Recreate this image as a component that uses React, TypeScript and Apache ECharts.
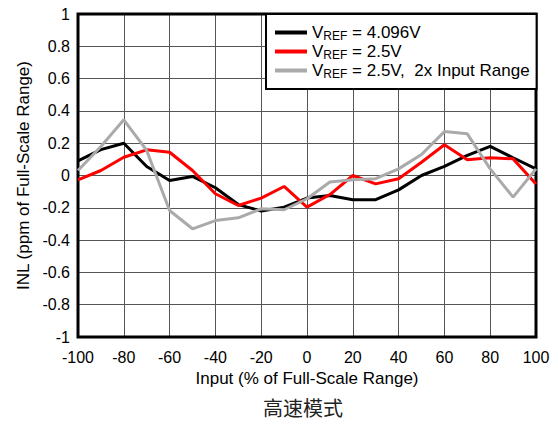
import React, { useEffect, useRef } from "react";
import * as echarts from "echarts";

const xValues = [-100, -90, -80, -70, -60, -50, -40, -30, -20, -10, 0, 10, 20, 30, 40, 50, 60, 70, 80, 90, 100];
const vref4096 = [0.09, 0.16, 0.2, 0.056, -0.031, -0.006, -0.076, -0.18, -0.22, -0.196, -0.14, -0.124, -0.15, -0.15, -0.089, 0.0, 0.056, 0.124, 0.18, 0.11, 0.041];
const vref25 = [-0.027, 0.031, 0.113, 0.159, 0.144, 0.031, -0.113, -0.186, -0.14, -0.068, -0.196, -0.118, 0.0, -0.052, -0.02, 0.082, 0.19, 0.097, 0.11, 0.103, -0.052];
const vref25x2 = [0.031, 0.18, 0.345, 0.155, -0.217, -0.33, -0.279, -0.262, -0.206, -0.212, -0.144, -0.04, -0.027, -0.02, 0.041, 0.13, 0.272, 0.258, 0.041, -0.134, 0.041];

const seriesNames = ["VREF = 4.096V", "VREF = 2.5V", "VREF = 2.5V, 2x Input Range"];
const legendLabels = ["V{sub|REF} = 4.096V", "V{sub|REF} = 2.5V", "V{sub|REF} = 2.5V,  2x Input Range"];
const seriesColors = ["#000000", "#ff0000", "#aaaaaa"];
const xTitle = "Input (% of Full-Scale Range)";
const yTitle = "INL (ppm of Full-Scale Range)";
const caption = "高速模式";

const FONT = "'Liberation Sans', Arial, sans-serif";

export default function App() {
  const ref = useRef<HTMLDivElement>(null);
  useEffect(() => {
    if (!ref.current) return;
    const chart = echarts.init(ref.current, undefined, { renderer: "svg" });
    const allData = [vref4096, vref25, vref25x2];
    chart.setOption({
      animation: false,
      backgroundColor: "#ffffff",
      title: {
        text: caption,
        left: 303,
        top: 397,
        textAlign: "center",
        textStyle: { fontFamily: "'Noto Sans CJK SC', sans-serif", fontSize: 20, fontWeight: "normal", color: "#222" },
        padding: 0,
      },
      grid: {
        left: 78,
        right: 22,
        top: 14,
        bottom: 87,
        show: true,
        borderColor: "#000",
        borderWidth: 3,
        backgroundColor: "transparent",
        z: 3,
      },
      legend: {
        left: 266,
        top: 14,
        orient: "vertical",
        itemGap: 0,
        itemWidth: 32,
        itemHeight: 4,
        icon: "rect",
        backgroundColor: "#ffffff",
        borderColor: "#000",
        borderWidth: 2,
        borderRadius: 0,
        padding: [9, 7, 9, 9],
        z: 5,
        data: seriesNames,
        formatter: (name: string) => legendLabels[seriesNames.indexOf(name)],
        textStyle: {
          fontFamily: FONT,
          fontSize: 17,
          lineHeight: 19,
          color: "#000",
          rich: {
            sub: { fontFamily: FONT, fontSize: 12, lineHeight: 12, verticalAlign: "bottom", color: "#000" },
          },
        },
      },
      xAxis: {
        type: "value",
        min: -100,
        max: 100,
        interval: 20,
        name: xTitle,
        nameLocation: "middle",
        nameGap: 31,
        nameTextStyle: { fontFamily: FONT, fontSize: 17, color: "#000" },
        axisLine: { show: false },
        axisTick: { show: false },
        axisLabel: { fontFamily: FONT, fontSize: 16, color: "#000", margin: 12 },
        splitLine: { show: true, lineStyle: { color: "#555", width: 1 } },
      },
      yAxis: {
        type: "value",
        min: -1,
        max: 1,
        interval: 0.2,
        name: yTitle,
        nameLocation: "middle",
        nameGap: 45,
        nameTextStyle: { fontFamily: FONT, fontSize: 17, color: "#000" },
        axisLine: { show: false },
        axisTick: { show: false },
        axisLabel: {
          fontFamily: FONT,
          fontSize: 16,
          color: "#000",
          margin: 8,
          formatter: (v: number) => String(Math.round(v * 10) / 10),
        },
        splitLine: { show: true, lineStyle: { color: "#555", width: 1 } },
      },
      series: seriesNames.map((name, i) => ({
        name,
        type: "line",
        showSymbol: false,
        symbol: "none",
        color: seriesColors[i],
        lineStyle: { color: seriesColors[i], width: 3 },
        data: xValues.map((x, j) => [x, allData[i][j]]),
        z: 2 + i,
      })),
    });
    return () => chart.dispose();
  }, []);
  return <div ref={ref} style={{ position: "absolute", left: 0, top: 0, width: 558, height: 424 }} />;
}
